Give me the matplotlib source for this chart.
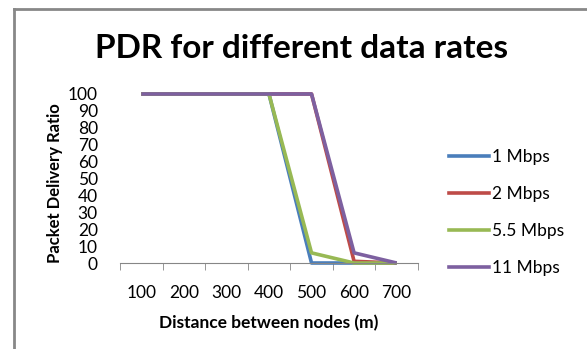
import matplotlib.pyplot as plt
from matplotlib.lines import Line2D

distances = ["100", "200", "300", "400", "500", "600", "700"]
pdr_1 = [100, 100, 100, 100, 0, 0, 0]
pdr_2 = [100, 100, 100, 100, 100, 1, 0]
pdr_55 = [100, 100, 100, 100, 6, 0, 0]
pdr_11 = [100, 100, 100, 100, 100, 6, 0]
series_names = ["1 Mbps", "2 Mbps", "5.5 Mbps", "11 Mbps"]
colors = ["#4a7ebb", "#be4b48", "#98b954", "#7d60a0"]

plt.rcParams['font.family'] = ['Lato', 'DejaVu Sans']

fig = plt.figure(figsize=(5.87, 3.49), dpi=100)
ax = fig.add_axes([0.2044, 0.2464, 0.712 - 0.2044, 0.7307 - 0.2464])

x = list(range(len(distances)))
for vals, name, c in zip([pdr_1, pdr_2, pdr_55, pdr_11], series_names, colors):
    ax.plot(x, vals, color=c, lw=2.6, label=name, solid_capstyle="butt")

ax.set_xlim(-0.5, len(distances) - 0.5)
ax.set_ylim(0, 100)
ax.set_yticks(range(0, 101, 10))
ax.set_xticks(x)
ax.set_xticklabels(distances)
ax.set_xticks([i - 0.5 for i in range(len(distances) + 1)], minor=True)
ax.tick_params(axis="x", which="major", length=0, pad=16, labelsize=12.5)
ax.tick_params(axis="x", which="minor", length=5, color="#868686", direction="out")
ax.tick_params(axis="y", length=0, pad=16, labelsize=12.5)
for s in ["top", "right", "left"]:
    ax.spines[s].set_visible(False)
ax.spines["bottom"].set_color("#868686")
for l in ax.lines:
    l.set_clip_on(False)

ax.set_xlabel("Distance between nodes (m)", fontsize=12.5, fontweight="bold")
ax.xaxis.set_label_coords(0.5, -0.31)
ax.set_ylabel("Packet Delivery Ratio", fontsize=12, fontweight="bold")
ax.yaxis.set_label_coords(-0.19, 0.47)
fig.text(0.513, 0.862, "PDR for different data rates", ha="center", va="center",
         fontsize=24, fontweight="bold")

handles = [Line2D([], [], color=c, lw=2.6) for c in colors]
fig.legend(handles, series_names, loc="center left", bbox_to_anchor=(0.765, 0.391),
           frameon=False, fontsize=12.5, handlelength=2.3, handletextpad=0.2,
           labelspacing=1.2, borderpad=0, borderaxespad=0)

# gray frame edges (top and left) of the original chart area
fig.add_artist(Line2D([14 / 587, 14 / 587], [0, 1 - 8.5 / 349], color="#888888", lw=2,
                      transform=fig.transFigure))
fig.add_artist(Line2D([14 / 587, 1], [1 - 8.5 / 349, 1 - 8.5 / 349], color="#888888", lw=2,
                      transform=fig.transFigure))

fig.savefig("out.png", dpi=100)
